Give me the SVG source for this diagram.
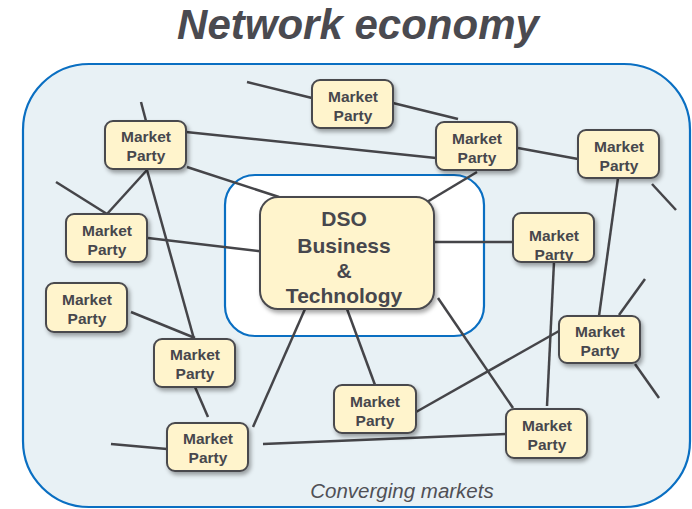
<svg xmlns="http://www.w3.org/2000/svg" width="692" height="509" viewBox="0 0 692 509">
<defs>
<filter id="sh" x="-20%" y="-20%" width="150%" height="160%">
<feDropShadow dx="2" dy="3" stdDeviation="2" flood-color="#000" flood-opacity="0.35"/>
</filter>
<style>
.mp rect{fill:#fff4cc;stroke:#4a4a4e;stroke-width:2;filter:url(#sh)}
.mp text{font-family:"Liberation Sans",Arial,sans-serif;font-weight:bold;font-size:15.5px;fill:#47474d;text-anchor:middle}
.ln line{stroke:#454549;stroke-width:2.5;stroke-linecap:butt}
.dso text{font-family:"Liberation Sans",Arial,sans-serif;font-weight:bold;font-size:21px;fill:#47474d;text-anchor:middle}
</style>
</defs>
<rect width="692" height="509" fill="#ffffff"/>
<text x="358" y="39" font-family="'Liberation Sans',Arial,sans-serif" font-weight="bold" font-style="italic" font-size="42" fill="#4a4a50" text-anchor="middle">Network economy</text>
<g id="outer">
<rect x="23" y="64" width="667" height="443" rx="66" ry="66" fill="#e8f1f5" stroke="#0a6fc2" stroke-width="2.2"/>
<text x="402" y="498" font-family="'Liberation Sans',Arial,sans-serif" font-style="italic" font-size="20.5" fill="#505056" text-anchor="middle">Converging markets</text>
</g>
<g id="inner">
<rect x="225" y="175" width="259" height="161" rx="30" ry="30" fill="#ffffff" stroke="#0a6fc2" stroke-width="2.2"/>
</g>
<g id="connectors" class="ln">
<line x1="247" y1="82" x2="312" y2="98"/>
<line x1="393" y1="103" x2="458" y2="119"/>
<line x1="186" y1="132" x2="436" y2="158"/>
<line x1="187" y1="167" x2="279" y2="197"/>
<line x1="141" y1="102" x2="146" y2="121"/>
<line x1="56" y1="182" x2="107" y2="214"/>
<line x1="147" y1="170" x2="107" y2="214"/>
<line x1="147" y1="170" x2="194" y2="339"/>
<line x1="148" y1="238" x2="266" y2="252"/>
<line x1="477" y1="172" x2="422" y2="205"/>
<line x1="518" y1="148" x2="578" y2="159"/>
<line x1="652" y1="184" x2="676" y2="210"/>
<line x1="434" y1="242" x2="513" y2="242"/>
<line x1="618" y1="178" x2="599" y2="316"/>
<line x1="554" y1="262" x2="547" y2="406"/>
<line x1="645" y1="279" x2="619" y2="315"/>
<line x1="635" y1="364" x2="659" y2="398"/>
<line x1="559" y1="331" x2="416" y2="412"/>
<line x1="438" y1="298" x2="513" y2="408"/>
<line x1="347" y1="309" x2="375" y2="385"/>
<line x1="305" y1="309" x2="253" y2="427"/>
<line x1="131" y1="312" x2="195" y2="338"/>
<line x1="195" y1="387" x2="208" y2="417"/>
<line x1="111" y1="444" x2="167" y2="449"/>
<line x1="263" y1="444" x2="506" y2="434"/>
</g>
<g id="dso" class="mp dso">
<rect x="260" y="197" width="174" height="112" rx="18" ry="18"/>
<text x="344" y="226">DSO</text>
<text x="344" y="253">Business</text>
<text x="344" y="278">&amp;</text>
<text x="344" y="303">Technology</text>
</g>
<g id="mp1" class="mp"><rect x="312" y="80" width="81" height="48" rx="8"/><text x="353" y="102">Market</text><text x="353" y="121">Party</text></g>
<g id="mp2" class="mp"><rect x="105" y="121" width="81" height="48" rx="8"/><text x="146" y="142">Market</text><text x="146" y="161">Party</text></g>
<g id="mp3" class="mp"><rect x="436" y="122" width="81" height="48" rx="8"/><text x="477" y="144">Market</text><text x="477" y="163">Party</text></g>
<g id="mp4" class="mp"><rect x="578" y="130" width="81" height="48" rx="8"/><text x="619" y="152">Market</text><text x="619" y="171">Party</text></g>
<g id="mp5" class="mp"><rect x="66" y="214" width="81" height="48" rx="8"/><text x="107" y="236">Market</text><text x="107" y="255">Party</text></g>
<g id="mp6" class="mp"><rect x="513" y="213" width="81" height="49" rx="8"/><text x="554" y="241">Market</text><text x="554" y="260">Party</text></g>
<g id="mp7" class="mp"><rect x="46" y="283" width="81" height="49" rx="8"/><text x="87" y="305">Market</text><text x="87" y="324">Party</text></g>
<g id="mp8" class="mp"><rect x="154" y="339" width="81" height="48" rx="8"/><text x="195" y="360">Market</text><text x="195" y="379">Party</text></g>
<g id="mp9" class="mp"><rect x="167" y="423" width="81" height="48" rx="8"/><text x="208" y="444">Market</text><text x="208" y="463">Party</text></g>
<g id="mp10" class="mp"><rect x="334" y="385" width="82" height="48" rx="8"/><text x="375" y="407">Market</text><text x="375" y="426">Party</text></g>
<g id="mp11" class="mp"><rect x="559" y="316" width="81" height="47" rx="8"/><text x="600" y="337">Market</text><text x="600" y="356">Party</text></g>
<g id="mp12" class="mp"><rect x="506" y="409" width="81" height="49" rx="8"/><text x="547" y="431">Market</text><text x="547" y="450">Party</text></g>
</svg>
